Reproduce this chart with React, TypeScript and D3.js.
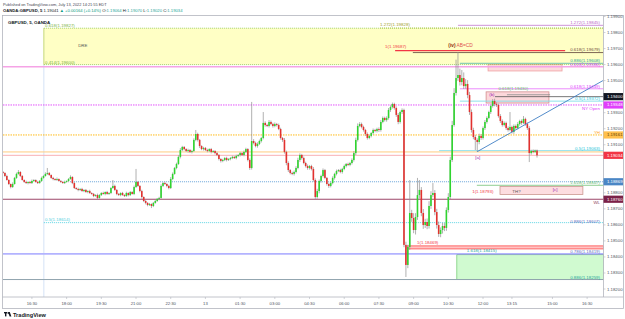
import * as d3 from "d3";

const FONT = "'Liberation Sans', Arial, sans-serif";

// GBPUSD 5-minute candles, Jul 12 15:15 -> Jul 13 14:20 (time = minutes from Jul 12 00:00)
const FIRST_BAR = 915;
const BAR_MIN = 5;
const BASE = 1.18; // prices below are points (1e-5) above BASE
const PT = 0.00001;
const FIRST_OPEN = 930;

const closes = [
  924, 905, 880, 855, 836, 855, 893, 918, 930, 905,
  880, 868, 861, 868, 861, 874, 880, 868, 861, 874,
  893, 905, 918, 924, 911, 893, 886, 880, 886, 874,
  868, 861, 868, 874, 886, 899, 861, 830, 824, 818,
  824, 811, 818, 805, 811, 799, 793, 780, 786, 768,
  786, 799, 793, 805, 793, 799, 830, 843, 818, 793,
  786, 799, 786, 780, 799, 786, 805, 793, 836, 868,
  843, 811, 774, 749, 737, 724, 730, 718, 737, 749,
  762, 768, 843, 861, 855, 843, 830, 886, 918, 955,
  980, 1024, 1067, 1086, 1073, 1061, 1067, 1055, 1061, 1130,
  1167, 1130, 1092, 1073, 1080, 1067, 1061, 1073, 1055, 1061,
  1048, 1036, 1011, 999, 1005, 1017, 1005, 1011, 1017, 1024,
  1017, 1030, 1036, 1048, 1036, 1055, 1073, 1005, 955, 1123,
  1111, 1092, 1105, 1123, 1142, 1236, 1223, 1217, 1242, 1229,
  1217, 1229, 1223, 1198, 1142, 1130, 1055, 986, 942, 924,
  918, 930, 955, 1005, 1036, 1017, 986, 967, 955, 967,
  949, 880, 774, 811, 874, 905, 942, 893, 855, 843,
  861, 893, 918, 936, 942, 930, 949, 967, 980, 974,
  986, 1005, 1048, 1130, 1217, 1229, 1211, 1192, 1167, 1142,
  1155, 1173, 1192, 1186, 1198, 1192, 1242, 1267, 1254, 1267,
  1317, 1335, 1354, 1329, 1286, 1242, 1304, 1317, 475, 350,
  462, 674, 643, 568, 649, 786, 818, 674, 599, 618,
  593, 718, 786, 799, 680, 599, 543, 568, 593, 581,
  693, 774, 1005, 1223, 1423, 1516, 1535, 1491, 1516, 1466,
  1479, 1410, 1304, 1192, 1148, 1130, 1117, 1155, 1142, 1204,
  1242, 1267, 1304, 1342, 1373, 1354, 1348, 1279, 1248, 1223,
  1236, 1204, 1192, 1211, 1180, 1217, 1204, 1229, 1248, 1236,
  1261, 1229, 1204, 1048, 1061, 1055, 1064, 1034,
];

const wickUp = [
  6, 4, 8, 5, 3, 10, 6, 8, 12, 5, 6, 4, 8, 3, 6, 9, 5, 4, 7, 6,
  8, 5, 10, 31, 6, 4, 7, 5, 9, 4, 6, 5, 8, 4, 6, 10, 4, 6, 5, 8,
  5, 7, 4, 6, 5, 8, 4, 6, 5, 9, 6, 5, 8, 4, 7, 5, 6, 37, 8, 5,
  6, 4, 7, 5, 8, 4, 6, 5, 9, 81, 6, 5, 8, 4, 6, 5, 7, 4, 6, 8,
  5, 7, 10, 6, 8, 5, 7, 12, 9, 6, 8, 10, 12, 7, 6, 5, 8, 6, 7, 10,
  25, 8, 6, 5, 7, 6, 8, 5, 7, 6, 5, 8, 6, 5, 7, 6, 8, 5, 6, 7,
  5, 8, 6, 7, 5, 9, 8, 6, 10, 244, 12, 8, 10, 9, 7, 68, 10, 8, 12, 9,
  8, 10, 7, 9, 8, 6, 12, 8, 10, 6, 8, 9, 11, 14, 10, 7, 9, 8, 10, 6,
  8, 12, 10, 14, 9, 8, 10, 7, 6, 9, 8, 10, 7, 9, 6, 8, 7, 9, 6, 8,
  7, 10, 12, 14, 16, 12, 9, 8, 7, 10, 8, 6, 9, 7, 8, 10, 12, 9, 8, 10,
  12, 10, 9, 8, 10, 12, 9, 10, 8, 20, 14, 206, 20, 30, 24, 107, 62, 18, 25, 20,
  22, 30, 24, 62, 18, 20, 22, 16, 20, 18, 16, 24, 20, 26, 30, 115, 143, 40, 50, 35,
  30, 24, 20, 16, 14, 12, 10, 14, 12, 10, 12, 10, 8, 10, 12, 14, 10, 8, 12, 10,
  9, 8, 10, 93, 8, 10, 9, 12, 8, 10, 18, 8, 10, 12, 8, 10, 6, 6,
];

const wickDn = [
  5, 7, 4, 6, 8, 5, 4, 6, 5, 7, 4, 6, 5, 8, 4, 6, 7, 5, 6, 4,
  6, 5, 4, 7, 5, 6, 8, 4, 6, 5, 7, 4, 6, 5, 8, 4, 7, 6, 5, 8,
  6, 4, 7, 5, 8, 6, 5, 7, 4, 9, 5, 6, 4, 8, 5, 6, 7, 5, 6, 8,
  5, 7, 4, 6, 5, 8, 6, 4, 7, 5, 6, 8, 10, 7, 9, 8, 6, 13, 7, 5,
  6, 8, 5, 7, 6, 9, 8, 6, 7, 5, 8, 6, 9, 7, 8, 6, 10, 7, 9, 6,
  8, 10, 12, 7, 9, 6, 8, 7, 9, 6, 8, 7, 9, 10, 8, 7, 9, 6, 8, 7,
  6, 8, 7, 9, 6, 8, 7, 9, 12, 10, 9, 8, 10, 7, 9, 8, 10, 7, 9, 8,
  10, 8, 9, 7, 10, 12, 10, 14, 12, 9, 8, 10, 9, 8, 12, 10, 8, 9, 11, 10,
  9, 10, 12, 10, 14, 10, 9, 8, 10, 12, 9, 8, 10, 9, 7, 8, 10, 8, 9, 7,
  8, 9, 10, 12, 10, 8, 9, 10, 12, 10, 8, 9, 10, 8, 9, 12, 10, 8, 9, 10,
  10, 12, 9, 10, 12, 14, 10, 12, 14, 75, 20, 18, 24, 20, 28, 18, 22, 20, 24, 18,
  20, 16, 18, 14, 20, 22, 18, 20, 22, 20, 18, 16, 14, 12, 10, 16, 18, 22, 20, 18,
  16, 20, 18, 16, 14, 63, 60, 14, 12, 10, 12, 10, 8, 12, 10, 14, 12, 10, 12, 10,
  9, 12, 10, 8, 10, 12, 9, 8, 10, 12, 8, 10, 12, 56, 10, 8, 6, 14,
];

const timeTicks = [990, 1080, 1170, 1260, 1350, 1440, 1530, 1620, 1710, 1800, 1890, 1980, 2070, 2160, 2235, 2340, 2430];
const timeLabels = ["16:30", "18:00", "19:30", "21:00", "22:30", "13", "01:30", "03:00", "04:30", "06:00", "07:30", "09:00", "10:30", "12:00", "13:15", "15:00", "16:30"];

const priceTicks = [1.182, 1.183, 1.184, 1.185, 1.186, 1.187, 1.188, 1.189, 1.19, 1.191, 1.192, 1.193, 1.194, 1.195, 1.196, 1.197, 1.198, 1.199];

// coloured price-scale tags
const priceTags = [
  { id: "b2", price: 1.194 },
  { id: "nyOpen", price: 1.19348 },
  { id: "yh", price: 1.19161 },
  { id: "last", price: 1.19034 },
  { id: "blueDot", price: 1.18869 },
  { id: "wl", price: 1.1876 },
];

// drawings: horizontal levels (from/to in minutes, open end = right edge)
const levels = [
  { id: "ext1272", price: 1.19845, from: 2095 },
  { id: "ext1272b", price: 1.19828, from: 1893 },
  { id: "dreTop", price: 1.19827, from: 1021 },
  { id: "dreBot", price: 1.196, from: 1021 },
  { id: "abcd", price: 1.19687, from: 1932, to: 2373 },
  { id: "fib618a", price: 1.19675, from: 1978 },
  { id: "fib886a", price: 1.19608, from: 2100 },
  { id: "fib618b", price: 1.19586, from: 915 },
  { id: "fib618c", price: 1.19449, from: 2100 },
  { id: "b1", price: 1.19412, from: 2222, to: 2334 },
  { id: "b2", price: 1.194, from: 2191 },
  { id: "fib5a", price: 1.19372, from: 2100 },
  { id: "nyOpen", price: 1.19348, from: 915 },
  { id: "yh", price: 1.19161, from: 915 },
  { id: "fib5b", price: 1.19063, from: 2046 },
  { id: "orange", price: 1.19055, from: 915 },
  { id: "last", price: 1.19034, from: 915 },
  { id: "blueDot", price: 1.18869, from: 1089 },
  { id: "fib1618", price: 1.18847, from: 2144 },
  { id: "wl", price: 1.1876, from: 915 },
  { id: "fib5c", price: 1.18614, from: 1021 },
  { id: "fib786", price: 1.18419, from: 915 },
  { id: "bottom", price: 1.18259, from: 915 },
];

const zones = [
  { id: "dre", from: 1021, p1: 1.19827, p2: 1.196 },
  { id: "pinkTop", from: 2173, to: 2365, p1: 1.196, p2: 1.1956 },
  { id: "bBox", from: 2168, to: 2331, p1: 1.1943, p2: 1.1936 },
  { id: "thBox", from: 2204, to: 2419, p1: 1.1884, p2: 1.1879 },
  { id: "redZone", from: 1963, p1: 1.18469, p2: 1.1845 },
  { id: "greenZone", from: 2092, p1: 1.18415, p2: 1.18259 },
];

// trendline [a] -> right edge
const trend = [
  { t: 2145, p: 1.19057 },
  { t: 2471, p: 1.195 },
];

const notes = [
  { text: "0.618(1.19827)", t: 1024, p: 1.19827, c: "#7cb342" },
  { text: "0.414(1.19600)", t: 1024, p: 1.196, c: "#7cb342" },
  { text: "1.272(1.19828)", t: 1893, p: 1.19838, c: "#9e9d24" },
  { text: "DRE", t: 1110, p: 1.19705, c: "#555" },
  { text: "1(1.19687)", t: 1906, p: 1.19697, c: "#f23645" },
  { text: "(b)", t: 2176, p: 1.194, c: "#9c27b0" },
  { text: "0.618(1.19430)", t: 2200, p: 1.19437, c: "#66bb6a" },
  { text: "[a]", t: 2140, p: 1.19005, c: "#9c27b0" },
  { text: "1(1.18793)", t: 2132, p: 1.18795, c: "#f23645" },
  { text: "TH?", t: 2236, p: 1.18797, c: "#555" },
  { text: "[c]", t: 2341, p: 1.18805, c: "#9c27b0" },
  { text: "1(1.18469)", t: 1989, p: 1.18475, c: "#f23645" },
  { text: "1.618(1.18415)", t: 2118, p: 1.18425, c: "#26a69a" },
  { text: "0.5(1.18614)", t: 1024, p: 1.18622, c: "#4dd0e1" },
];

// labels flush right against the price scale
const rightNotes = [
  { text: "1.272(1.19845)", p: 1.19845, c: "#ba68c8", below: false },
  { text: "0.618(1.19679)", p: 1.19679, c: "#6d4c41", below: false },
  { text: "0.886(1.19608)", p: 1.19608, c: "#26a69a", below: false },
  { text: "0.618(1.19586)", p: 1.19586, c: "#e040fb", below: false },
  { text: "0.618(1.19449)", p: 1.19449, c: "#e040fb", below: false },
  { text: "0.5(1.19372)", p: 1.19372, c: "#26c6da", below: false },
  { text: "NY Open", p: 1.19348, c: "#e040fb", below: true },
  { text: "YH", p: 1.19161, c: "#ffa726", below: false },
  { text: "0.5(1.19063)", p: 1.19063, c: "#26c6da", below: false },
  { text: "1.618(1.18847)", p: 1.18847, c: "#66bb6a", below: false },
  { text: "WL", p: 1.1876, c: "#8e3b5b", below: true },
  { text: "0.886(1.18607)", p: 1.18607, c: "#5c6bc0", below: false },
  { text: "0.786(1.18419)", p: 1.18419, c: "#5c6bc0", below: false },
  { text: "0.886(1.18259)", p: 1.18259, c: "#26a69a", below: false },
];

const levelStyle: Record<string, { stroke: string; w: number; dash?: string }> = {
  ext1272: { stroke: "#ce93d8", w: 1 },
  ext1272b: { stroke: "#c0ca33", w: 0.8, dash: "1,1" },
  dreTop: { stroke: "#8bc34a", w: 0.8, dash: "1,1" },
  dreBot: { stroke: "#8bc34a", w: 0.8, dash: "1,1" },
  abcd: { stroke: "#f23645", w: 1.4 },
  fib618a: { stroke: "#5d4037", w: 0.8 },
  fib886a: { stroke: "#4db6ac", w: 0.8 },
  fib618b: { stroke: "#f5a3e6", w: 1.5 },
  fib618c: { stroke: "#ea80fc", w: 0.9 },
  b1: { stroke: "#8d8d8d", w: 0.8 },
  b2: { stroke: "#555", w: 0.8 },
  fib5a: { stroke: "#80deea", w: 0.9 },
  nyOpen: { stroke: "#e040fb", w: 0.9, dash: "1.5,1" },
  yh: { stroke: "#ffb300", w: 0.9, dash: "1.5,1" },
  fib5b: { stroke: "#80deea", w: 0.9 },
  orange: { stroke: "#ffcc80", w: 1 },
  last: { stroke: "#f8b0b5", w: 1 },
  blueDot: { stroke: "#5b9bd5", w: 0.9, dash: "1,1" },
  fib1618: { stroke: "#81c784", w: 0.9 },
  wl: { stroke: "#9c4668", w: 1.2 },
  fib5c: { stroke: "#4dd0e1", w: 0.9, dash: "1,1" },
  fib786: { stroke: "#b3b3ff", w: 1.8 },
  bottom: { stroke: "#90a4ae", w: 1 },
};

const zoneStyle: Record<string, { fill: string; stroke: string }> = {
  dre: { fill: "rgba(255,255,150,0.55)", stroke: "none" },
  pinkTop: { fill: "rgba(242,54,69,0.18)", stroke: "rgba(229,115,115,0.6)" },
  bBox: { fill: "rgba(242,54,69,0.2)", stroke: "rgba(200,120,120,0.8)" },
  thBox: { fill: "rgba(242,54,69,0.17)", stroke: "rgba(190,130,120,0.8)" },
  redZone: { fill: "rgba(255,82,82,0.35)", stroke: "#ff4d4d" },
  greenZone: { fill: "rgba(120,240,120,0.35)", stroke: "#7ccf7c" },
};

const tagStyle: Record<string, { bg: string; fg: string }> = {
  b2: { bg: "#131722", fg: "#fff" },
  nyOpen: { bg: "#e040fb", fg: "#fff" },
  yh: { bg: "#ffc04d", fg: "#5a3b00" },
  last: { bg: "#f23645", fg: "#fff" },
  blueDot: { bg: "#4a86c5", fg: "#fff" },
  wl: { bg: "#7b2148", fg: "#fff" },
};

const PLOT = { left: 3, right: 603.5, top: 16, bottom: 297 };

export default function App() {
  const x = d3.scaleLinear().domain([FIRST_BAR, 2300]).range([3, 537]);
  const y = d3.scaleLinear().domain([1.182, 1.199]).range([289, 16.5]);
  const xe = (t?: number) => (t === undefined ? PLOT.right : x(t));

  const candles = closes.map((c, i) => {
    const o = i === 0 ? FIRST_OPEN : closes[i - 1];
    return {
      t: FIRST_BAR + i * BAR_MIN,
      o: BASE + o * PT,
      c: BASE + c * PT,
      h: BASE + (Math.max(o, c) + wickUp[i]) * PT,
      l: BASE + (Math.min(o, c) - wickDn[i]) * PT,
    };
  });

  const tagYs = priceTags.map((d) => y(d.price));
  const visibleTicks = priceTicks.filter((p) => tagYs.every((ty) => Math.abs(ty - y(p)) > 6));
  const trendLine = d3.line<{ t: number; p: number }>().x((d) => x(d.t)).y((d) => y(d.p));

  const bw = 1.6;

  return (
    <svg width={625} height={319} style={{ position: "absolute", left: 0, top: 0, background: "#fff" }} fontFamily={FONT}>
      <defs>
        <clipPath id="plot">
          <rect x={PLOT.left} y={PLOT.top} width={PLOT.right - PLOT.left} height={PLOT.bottom - PLOT.top} />
        </clipPath>
      </defs>
      <rect width={625} height={319} fill="#fff" />

      {/* header */}
      <text x={3} y={6} fontSize={3.9} fill="#434651">Published on TradingView.com, July 13, 2022 14:21:55 EDT</text>
      <text x={3} y={12.2} fontSize={4.2} fill="#131722">
        <tspan fontWeight="bold">OANDA:GBPUSD, 5 </tspan>
        <tspan> 1.19041 </tspan>
        <tspan fill="#089981">▲ +0.00164 (+0.14%)</tspan>
        <tspan> O:</tspan><tspan fill="#26a69a">1.19064</tspan>
        <tspan> H:</tspan><tspan fill="#26a69a">1.19070</tspan>
        <tspan> L:</tspan><tspan fill="#26a69a">1.19020</tspan>
        <tspan> C:</tspan><tspan fill="#26a69a">1.19034</tspan>
      </text>

      <g clipPath="url(#plot)">
        {/* zones */}
        {zones.map((z) => (
          <rect
            key={z.id}
            x={x(z.from)}
            y={y(z.p1)}
            width={xe(z.to) - x(z.from)}
            height={y(z.p2) - y(z.p1)}
            fill={zoneStyle[z.id].fill}
            stroke={zoneStyle[z.id].stroke}
            strokeWidth={0.8}
          />
        ))}
        <line x1={x(2092)} x2={PLOT.right} y1={y(1.18415)} y2={y(1.18415)} stroke="#2e8b3a" strokeWidth={1} />
        <line x1={x(1021)} x2={x(1021)} y1={y(1.19827)} y2={PLOT.bottom} stroke="#c9daf5" strokeWidth={0.8} />
        <line x1={x(1021)} x2={x(1021)} y1={y(1.19827)} y2={y(1.196)} stroke="#d4e157" strokeWidth={0.8} />

        {/* horizontal levels */}
        {levels.map((l) => {
          const s = levelStyle[l.id];
          return (
            <line
              key={l.id}
              x1={x(l.from)}
              x2={xe(l.to)}
              y1={y(l.price)}
              y2={y(l.price)}
              stroke={s.stroke}
              strokeWidth={s.w}
              strokeDasharray={s.dash}
            />
          );
        })}

        {/* candles */}
        {candles.map((d, i) => {
          const up = d.c >= d.o;
          const top = y(Math.max(d.o, d.c));
          const h = Math.max(0.9, y(Math.min(d.o, d.c)) - top);
          return (
            <g key={i}>
              <line x1={x(d.t)} x2={x(d.t)} y1={y(d.h)} y2={y(d.l)} stroke="#8f8f8f" strokeWidth={0.7} />
              <rect x={x(d.t) - bw / 2} y={top} width={bw} height={h} fill={up ? "#2fd42f" : "#e2312f"} />
            </g>
          );
        })}

        {/* trendline */}
        <path d={trendLine(trend) ?? ""} stroke="#3f7fc4" strokeWidth={0.9} fill="none" />

        {/* text notes */}
        {notes.map((n, i) => (
          <text key={i} x={x(n.t)} y={y(n.p) - 0.8} fontSize={4.4} fill={n.c}>
            {n.text}
          </text>
        ))}
        <text x={x(2070)} y={y(1.19712)} fontSize={4.8}>
          <tspan fill="#8d2b0b" fontWeight="bold">(iv)</tspan>
          <tspan fill="#e05050"> AB=CD</tspan>
        </text>
        {rightNotes.map((n, i) => (
          <text key={i} x={600} y={y(n.p) + (n.below ? 5 : -1)} fontSize={4.4} fill={n.c} textAnchor="end">
            {n.text}
          </text>
        ))}
        <text x={8} y={23.5} fontSize={4.4} fill="#131722" fontWeight="bold">GBPUSD, 5, OANDA</text>
      </g>

      {/* frame */}
      <g fill="none" stroke="#b2b5be" strokeWidth={0.8}>
        <rect x={2.5} y={15.5} width={621} height={293} />
        <line x1={PLOT.right} x2={PLOT.right} y1={15.5} y2={297} />
        <line x1={2.5} x2={623.5} y1={297} y2={297} />
      </g>

      {/* price axis */}
      {visibleTicks.map((p) => (
        <g key={p}>
          <line x1={PLOT.right} x2={PLOT.right + 2} y1={y(p)} y2={y(p)} stroke="#b2b5be" strokeWidth={0.6} />
          <text x={607} y={y(p) + 1.5} fontSize={4.3} fill="#50535e">{p.toFixed(5)}</text>
        </g>
      ))}
      {priceTags.map((d) => (
        <g key={d.id}>
          <rect x={PLOT.right} y={y(d.price) - 3.6} width={19.5} height={7.2} fill={tagStyle[d.id].bg} />
          <text x={607} y={y(d.price) + 1.5} fontSize={4.3} fill={tagStyle[d.id].fg}>{d.price.toFixed(5)}</text>
        </g>
      ))}

      {/* time axis */}
      {timeTicks.map((t, i) => (
        <g key={t}>
          <line x1={x(t)} x2={x(t)} y1={297} y2={299} stroke="#b2b5be" strokeWidth={0.6} />
          <text x={x(t)} y={305} fontSize={4.2} fill="#50535e" textAnchor="middle">{timeLabels[i]}</text>
        </g>
      ))}

      {/* logo */}
      <g fill="#131722">
        <rect x={4} y={312} width={3.2} height={1.4} />
        <rect x={5} y={312} width={1.4} height={4.4} />
        <path d="M8 312 h1.8 l1.6 4.4 h-1.8 z" />
        <circle cx={8.3} cy={313.1} r={0.8} />
      </g>
      <text x={13} y={316.6} fontSize={5.6} fontWeight="bold" fill="#131722">TradingView</text>
    </svg>
  );
}
